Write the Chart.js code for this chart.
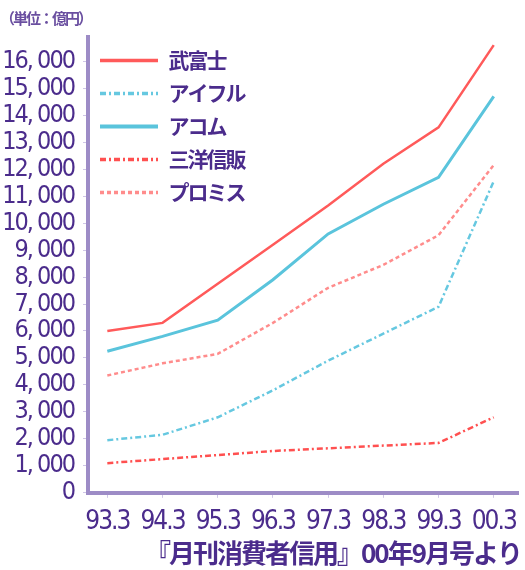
<!DOCTYPE html>
<html lang="ja">
<head>
<meta charset="UTF-8">
<title>消費者金融 貸付残高</title>
<script src="https://cdn.jsdelivr.net/npm/chart.js@4.4.1/dist/chart.umd.min.js"></script>
<style>
  html, body { margin: 0; padding: 0; background: #fff; }
  #wrap { width: 525px; height: 570px; }
</style>
</head>
<body>
<div id="wrap"><canvas id="chart" width="525" height="570"></canvas></div>
<script>
// years (March of each fiscal year)
const categories = ['93.3', '94.3', '95.3', '96.3', '97.3', '98.3', '99.3', '00.3'];
const yTicks = [0, 1000, 2000, 3000, 4000, 5000, 6000, 7000, 8000, 9000, 10000, 11000, 12000, 13000, 14000, 15000, 16000];

// loan balances, 100 million yen
const takefuji = [6000, 6300, 7750, 9200, 10650, 12200, 13550, 16600];
const aiful    = [1950, 2150, 2800, 3800, 4900, 5900, 6900, 11550];
const acom     = [5250, 5800, 6400, 7900, 9600, 10700, 11700, 14700];
const sanyo    = [1100, 1250, 1400, 1550, 1650, 1750, 1850, 2800];
const promise  = [4350, 4800, 5150, 6300, 7600, 8450, 9550, 12150];

const purple = '#4b2c8c';
const axisColor = '#9d8cc6';
const narrow = '"DejaVu Sans", "Noto Sans", sans-serif';
const cjk = '"Noto Sans CJK JP", "Noto Sans", sans-serif';

function pts(arr) {
  return arr.map((v, i) => ({ x: i, y: v }));
}

// the original lettering is squeezed: tighten every text a bit
const squeeze = {
  id: 'squeeze',
  beforeLayout(chart) { chart.ctx.letterSpacing = '-2px'; },
  beforeDraw(chart) { chart.ctx.letterSpacing = '-2px'; }
};

const ctx = document.getElementById('chart').getContext('2d');
new Chart(ctx, {
  type: 'line',
  plugins: [squeeze],
  data: {
    datasets: [
      { label: '武富士', data: pts(takefuji), borderColor: '#ff5a5a', borderWidth: 2.5 },
      { label: 'アイフル', data: pts(aiful), borderColor: '#66c8e0', borderWidth: 2.5, borderDash: [6, 3, 2, 3] },
      { label: 'アコム', data: pts(acom), borderColor: '#5ac4dc', borderWidth: 3 },
      { label: '三洋信販', data: pts(sanyo), borderColor: '#ff5050', borderWidth: 2.5, borderDash: [6, 3, 2, 3] },
      { label: 'プロミス', data: pts(promise), borderColor: '#ff8c8c', borderWidth: 2.5, borderDash: [4, 3] }
    ]
  },
  options: {
    responsive: false,
    animation: false,
    layout: { padding: { left: 0, right: 4, top: 0, bottom: 0 } },
    elements: {
      point: { radius: 0 },
      line: { tension: 0, fill: false }
    },
    scales: {
      x: {
        type: 'linear',
        min: -0.35,
        max: 7.45,
        afterBuildTicks: s => { s.ticks = categories.map((c, i) => ({ value: i })); },
        afterFit: s => { s.height = 45; },
        border: { display: true, color: axisColor, width: 4 },
        grid: { display: true, drawOnChartArea: false, drawTicks: true, tickLength: 5, tickColor: '#cfc6e6' },
        ticks: {
          autoSkip: false,
          maxRotation: 0,
          padding: 9,
          color: purple,
          font: { family: narrow, size: 26, weight: 'condensed' },
          callback: v => categories[v]
        }
      },
      y: {
        min: 0,
        max: 16900,
        afterBuildTicks: s => { s.ticks = yTicks.map(v => ({ value: v })); },
        afterFit: s => { s.width = 88; },
        border: { display: true, color: axisColor, width: 4 },
        grid: { display: true, drawOnChartArea: false, drawTicks: true, tickLength: 5, tickColor: '#cfc6e6' },
        ticks: {
          autoSkip: false,
          padding: 9,
          color: purple,
          font: { family: narrow, size: 25, weight: 'condensed' },
          callback: v => v === 0 ? '0' : Math.floor(v / 1000) + ', ' + String(v % 1000).padStart(3, '0')
        }
      }
    },
    plugins: {
      title: {
        display: true,
        text: '（単位：億円）',
        align: 'start',
        color: '#6a4fa0',
        font: { family: cjk, size: 15, weight: 'bold' },
        padding: { top: 9, bottom: 10 }
      },
      subtitle: {
        display: true,
        position: 'bottom',
        align: 'end',
        text: '『月刊消費者信用』00年9月号より',
        color: purple,
        font: { family: cjk, size: 26, weight: 'bold' },
        padding: { top: 0, bottom: 1 }
      },
      legend: {
        position: 'chartArea',
        align: 'start',
        title: { display: true, text: ' ', font: { size: 10 }, padding: { top: 26, bottom: 0 } },
        labels: {
          usePointStyle: true,
          pointStyle: 'line',
          pointStyleWidth: 58,
          padding: 12,
          color: purple,
          font: { family: cjk, size: 21, weight: 'bold' },
          generateLabels: chart => Chart.defaults.plugins.legend.labels.generateLabels(chart).map(item => {
            const ds = chart.data.datasets[item.datasetIndex];
            item.lineDash = ds.borderDash || [];
            item.lineWidth = ds.borderWidth + 1;
            item.strokeStyle = ds.borderColor;
            return item;
          })
        }
      },
      tooltip: { enabled: false }
    }
  }
});
</script>
</body>
</html>
